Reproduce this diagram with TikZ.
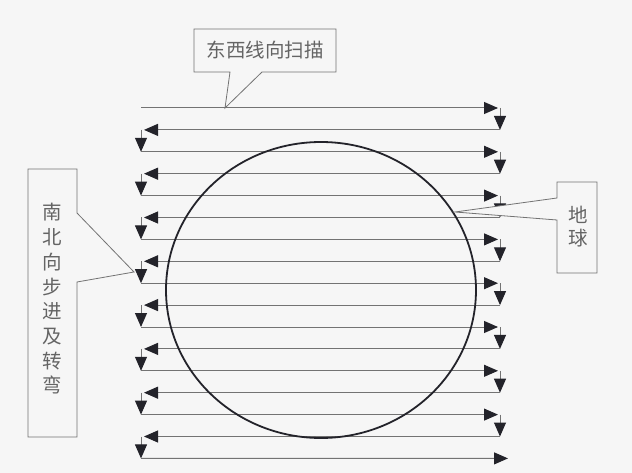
\documentclass[tikz,border=0pt]{standalone}
\usepackage{fontspec}
\newfontfamily\cjk{Noto Sans CJK SC}
\usetikzlibrary{arrows.meta,shapes.geometric}
\definecolor{bg}{RGB}{246,246,246}
\definecolor{ln}{RGB}{115,115,115}
\definecolor{dk}{RGB}{35,35,42}
\definecolor{tx}{RGB}{100,100,100}
\tikzset{
  scan/.style={draw=ln, line width=1pt, -{Triangle[length=14pt,width=12pt,color=dk]}},
  callout/.style={draw=ln, line width=0.8pt, fill=bg, line join=miter},
  lbl/.style={text=tx, font=\cjk\fontsize{19.5}{24.7}\selectfont, inner sep=0pt, align=center}
}
\begin{document}
\begin{tikzpicture}[x=1pt,y=-1pt]
\fill[bg] (0,0) rectangle (632,473);
\useasboundingbox (0,0) rectangle (632,473);
% scan line end points
\foreach \i in {0,...,16} {
  \pgfmathsetmacro\yy{108+\i*21.9}
  \coordinate (L\i) at (141,\yy);
  \coordinate (R\i) at (500,\yy);
}
\coordinate (E) at (508,458.4);
\foreach \i [evaluate=\i as \j using int(\i+1)] in {0,...,15} {
  \ifodd\i
    \draw[scan] (R\i) -- ([xshift=3pt]L\i);
    \draw[scan] (L\i) -- (L\j);
  \else
    \draw[scan] (L\i) -- ([xshift=-2pt]R\i);
    \draw[scan] (R\i) -- (R\j);
  \fi
}
\draw[scan] (L16) -- (E);
% earth
\node (earth) [draw=dk, line width=1.8pt, ellipse, minimum width=310pt, minimum height=296pt, inner sep=0pt] at (321,290) {};
% top callout
\coordinate (t1) at (225,108);
\draw[callout] (194,29) -- (336,29) -- (336,72) -- (262,72) -- (t1) -- (230,72) -- (194,72) -- cycle;
\node (ew) [lbl] at (265,50.5) {东西线向扫描};
% left callout
\coordinate (t2) at (134,272);
\draw[callout] (28,169) -- (77,169) -- (77,213) -- (t2) -- (77,282) -- (77,437) -- (28,437) -- cycle;
\node (ns) [lbl] at (52,299) {南\\北\\向\\步\\进\\及\\转\\弯};
% right callout
\coordinate (t3) at (455,212);
\draw[callout] (557,182) -- (597,182) -- (597,273) -- (557,273) -- (557,220) -- (t3) -- (557,198) -- cycle;
\node (ea) [lbl, font=\cjk\fontsize{19.5}{23}\selectfont] at (578,226.5) {地\\球};
\end{tikzpicture}
\end{document}
